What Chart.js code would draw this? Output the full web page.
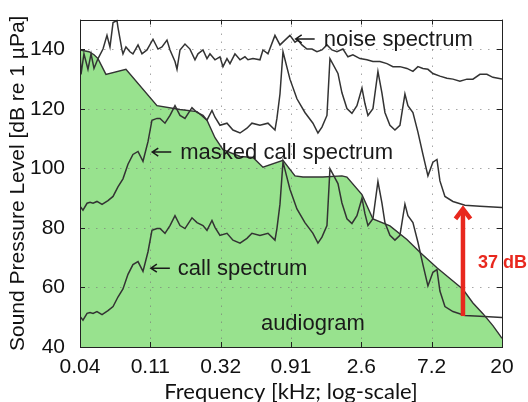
<!DOCTYPE html>
<html>
<head>
<meta charset="utf-8">
<script src="https://cdn.jsdelivr.net/npm/chart.js@4.4.1/dist/chart.umd.min.js"></script>
<style>
  html, body { margin: 0; padding: 0; background: #ffffff; }
  #wrap { width: 528px; height: 402px; }
</style>
</head>
<body>
<div id="wrap"><canvas id="c" width="528" height="402"></canvas></div>
<script>
// Frequency axis (kHz, log scale): ticks every 1.5 octaves
const freqTicks = [0.04, 0.1131, 0.32, 0.905, 2.56, 7.24, 20.48];
const freqTickLabels = ['0.04', '0.11', '0.32', '0.91', '2.6', '7.2', '20'];
const levelTicks = [40, 60, 80, 100, 120, 140];

// Ambient noise spectrum
const noiseFreq = [0.0400, 0.0406, 0.0424, 0.0450, 0.0471, 0.0492, 0.0522, 0.0562, 0.0596, 0.0623, 0.0652, 0.0691, 0.0701,
  0.0744, 0.0755, 0.0789, 0.0837, 0.0875, 0.0943, 0.100, 0.1077, 0.1177, 0.1267, 0.1344, 0.1447, 0.1513, 0.1629, 0.1678,
  0.1754, 0.1888, 0.2032, 0.2189, 0.2288, 0.2464, 0.2614, 0.2732, 0.2942, 0.3167, 0.3311, 0.3513, 0.3672, 0.3953, 0.426,
  0.458, 0.479, 0.516, 0.572, 0.598, 0.644, 0.714, 0.769, 0.828, 0.891, 0.960, 1.003, 1.064, 1.146, 1.234, 1.328, 1.430,
  1.540, 1.658, 1.785, 1.951, 2.100, 2.261, 2.508, 2.781, 3.039, 3.371, 3.738, 4.084, 4.529, 5.023, 5.489, 5.910, 6.363,
  6.852, 7.376, 8.181, 9.073, 9.914, 10.99, 12.20, 13.33, 14.78, 16.38, 17.90, 20.48];
const noiseLevel = [139.8, 131.6, 138.5, 133.3, 138.5, 133.6, 136.9, 140.1, 144.7, 140.8, 149.0, 149.7, 147.4,
  139.8, 138.5, 140.8, 139.2, 138.5, 141.5, 138.5, 139.8, 143.4, 140.1, 140.8, 143.1, 139.8, 135.9, 133.3,
  139.8, 141.8, 140.1, 136.5, 138.5, 139.8, 136.9, 138.5, 136.5, 137.5, 134.2, 136.9, 135.2, 138.5, 136.5,
  137.5, 136.5, 136.9, 136.5, 139.8, 138.5, 144.7, 141.5, 143.1, 144.7, 142.4, 143.1, 141.5, 140.1, 140.1, 139.2, 139.8,
  141.5, 139.8, 139.2, 140.1, 137.5, 138.2, 136.9, 136.5, 135.9, 135.9, 135.2, 134.2, 134.2, 133.6, 132.6, 134.2, 133.6,
  133.3, 131.9, 131.0, 130.3, 130.0, 129.3, 130.0, 130.0, 131.6, 131.6, 130.6, 130.0];

// Call spectrum and the same call masked by noise (shared frequency grid)
const callFreq = [0.0400, 0.0418, 0.0444, 0.0464, 0.0485, 0.0514, 0.0554, 0.0605, 0.0652, 0.0701, 0.0755, 0.0813, 0.0875,
  0.0943, 0.1015, 0.1093, 0.1159, 0.1248, 0.1305, 0.1405, 0.1513, 0.1629, 0.1754, 0.1888, 0.2094, 0.2255, 0.2464, 0.2614,
  0.2814, 0.2942, 0.3167, 0.3513, 0.3838, 0.426, 0.472, 0.508, 0.572, 0.644, 0.714, 0.735, 0.769, 0.804, 0.891, 0.988,
  1.112, 1.252, 1.348, 1.430, 1.540, 1.610, 1.812, 1.922, 2.069, 2.228, 2.399, 2.584, 2.700, 2.823, 3.039, 3.272, 3.470,
  3.628, 3.907, 4.207, 4.529, 4.877, 5.097, 5.489, 5.910, 6.363, 6.852, 7.376, 7.83, 8.181, 8.809, 9.914, 11.84, 14.78, 20.48];
const maskedCallLevel = [87.3, 86.0, 88.3, 88.6, 88.3, 88.9, 87.9, 89.2, 90.6, 93.8, 96.5, 101.4, 104.7,
  105.7, 102.4, 109.0, 116.2, 116.8, 116.8, 115.2, 117.8, 121.1, 117.8, 116.8, 120.4, 118.8, 117.8, 116.2,
  119.5, 117.2, 114.5, 115.2, 112.9, 111.9, 113.5, 115.2, 114.5, 115.2, 112.9, 116.8, 125.0, 139.2, 130.0, 123.4,
  118.8, 115.2, 111.9, 113.9, 117.8, 136.9, 131.9, 125.4, 120.1, 118.5, 121.1, 127.0, 121.8, 117.8, 120.1, 132.6, 125.4,
  118.8, 114.5, 112.9, 114.5, 125.0, 121.1, 118.8, 112.2, 104.7, 97.5, 102.1, 103.0, 95.8, 90.6, 88.9, 87.6, 87.3, 86.9];
const callLevel = [50.3, 49.0, 51.3, 51.6, 51.3, 51.9, 50.9, 52.2, 53.6, 56.8, 59.5, 64.4, 67.7,
  68.7, 65.4, 72.0, 79.2, 79.8, 79.8, 78.2, 80.8, 84.1, 80.8, 79.8, 83.4, 81.8, 80.8, 79.2,
  82.5, 80.2, 77.5, 78.2, 75.9, 74.9, 76.5, 78.2, 77.5, 78.2, 75.9, 79.8, 88.0, 102.2, 93.0, 86.4,
  81.8, 78.2, 74.9, 76.9, 80.8, 99.9, 94.9, 88.4, 83.1, 81.5, 84.1, 90.0, 84.8, 80.8, 83.1, 95.6, 88.4,
  81.8, 77.5, 75.9, 77.5, 88.0, 84.1, 81.8, 75.2, 67.7, 60.5, 65.1, 66.0, 58.8, 53.6, 51.9, 50.6, 50.3, 49.9];

// Hearing threshold (audiogram)
const audiogramFreq = [0.0400, 0.0457, 0.0492, 0.0522, 0.0587, 0.0789, 0.1248, 0.1754, 0.2255, 0.2614, 0.2942, 0.3311,
  0.426, 0.516, 0.598, 0.804, 0.960, 1.080, 1.451, 1.922, 2.069, 2.584, 3.039, 3.907, 5.023, 6.087, 7.83, 9.485,
  11.49, 13.33, 15.45, 17.90, 19.86, 20.48];
const audiogramLevel = [139.8, 139.2, 138.2, 136.9, 131.6, 133.3, 121.1, 119.8, 119.1, 116.2, 110.3, 106.3,
  104.0, 103.7, 100.4, 102.7, 97.5, 97.1, 97.1, 97.5, 97.1, 91.2, 83.0, 80.7, 76.1, 71.8, 66.6, 63.0,
  59.4, 54.8, 51.2, 47.2, 43.9, 42.9];

// Masking gain marker
const gainFreq = 11.5;
const gainFrom = 50.4;
const gainDb = 37;

const toPoints = (xs, ys) => xs.map((f, i) => ({ x: f, y: ys[i] }));

const SANS = '"Liberation Sans", Arial, Helvetica, sans-serif';
const LINE = '#333333';
const GREEN = 'rgb(152,226,142)';

const decor = {
  id: 'decor',
  beforeDatasetsDraw(chart) {
    const { ctx, chartArea: a, scales: { x, y } } = chart;
    ctx.save();
    ctx.strokeStyle = 'rgba(120,120,120,0.65)';
    ctx.lineWidth = 1;
    ctx.setLineDash([1.5, 6.5]);
    freqTicks.slice(1, -1).forEach(v => {
      const px = Math.round(x.getPixelForValue(v)) + 0.5;
      ctx.beginPath(); ctx.moveTo(px, a.bottom); ctx.lineTo(px, a.top); ctx.stroke();
    });
    levelTicks.slice(1).forEach(v => {
      const py = Math.round(y.getPixelForValue(v)) + 0.5;
      ctx.beginPath(); ctx.moveTo(a.left, py); ctx.lineTo(a.right, py); ctx.stroke();
    });
    ctx.restore();
  },
  afterDatasetsDraw(chart) {
    const { ctx, chartArea: a, scales: { x, y } } = chart;
    ctx.save();
    // box and inward ticks
    ctx.strokeStyle = '#222';
    ctx.lineWidth = 1;
    ctx.strokeRect(Math.round(a.left) + 0.5, Math.round(a.top) + 0.5,
      Math.round(a.right - a.left), Math.round(a.bottom - a.top));
    const tl = 5;
    freqTicks.forEach(v => {
      const px = Math.round(x.getPixelForValue(v)) + 0.5;
      ctx.beginPath();
      ctx.moveTo(px, a.bottom); ctx.lineTo(px, a.bottom - tl);
      ctx.moveTo(px, a.top); ctx.lineTo(px, a.top + tl);
      ctx.stroke();
    });
    levelTicks.forEach(v => {
      const py = Math.round(y.getPixelForValue(v)) + 0.5;
      ctx.beginPath();
      ctx.moveTo(a.left, py); ctx.lineTo(a.left + tl, py);
      ctx.moveTo(a.right, py); ctx.lineTo(a.right - tl, py);
      ctx.stroke();
    });

    // curve labels with pointer arrows
    const label = (text, f, db, dx) => {
      const tipX = x.getPixelForValue(f), tipY = y.getPixelForValue(db);
      ctx.strokeStyle = '#1a1a1a';
      ctx.lineWidth = 1.5;
      ctx.beginPath();
      ctx.moveTo(tipX, tipY); ctx.lineTo(tipX + 19, tipY);
      ctx.moveTo(tipX + 6, tipY - 4); ctx.lineTo(tipX, tipY); ctx.lineTo(tipX + 6, tipY + 4);
      ctx.stroke();
      ctx.fillStyle = '#1a1a1a';
      ctx.font = '22px ' + SANS;
      ctx.textAlign = 'left';
      ctx.textBaseline = 'alphabetic';
      ctx.fillText(text, tipX + dx, tipY + 7);
    };
    label('noise spectrum', 0.97, 143.5, 28);
    label('masked call spectrum', 0.1164, 105.5, 28);
    label('call spectrum', 0.1140, 66.5, 27);

    ctx.fillStyle = '#1a1a1a';
    ctx.font = '22px ' + SANS;
    ctx.fillText('audiogram', x.getPixelForValue(0.58), y.getPixelForValue(45.8));

    // masking gain arrow
    const gx = x.getPixelForValue(gainFreq);
    const y0 = y.getPixelForValue(gainFrom);
    const y1 = y.getPixelForValue(gainFrom + gainDb);
    ctx.strokeStyle = '#e8281e';
    ctx.lineWidth = 4.5;
    ctx.lineCap = 'butt';
    ctx.lineJoin = 'miter';
    ctx.beginPath(); ctx.moveTo(gx, y0); ctx.lineTo(gx, y1 + 3); ctx.stroke();
    ctx.beginPath(); ctx.moveTo(gx - 7.5, y1 + 13); ctx.lineTo(gx, y1 + 3); ctx.lineTo(gx + 7.5, y1 + 13); ctx.stroke();
    ctx.fillStyle = '#e8281e';
    ctx.font = 'bold 18px ' + SANS;
    ctx.textBaseline = 'middle';
    ctx.fillText(gainDb + ' dB', gx + 15, (y0 + y1) / 2 + 2);
    ctx.restore();
  }
};

new Chart(document.getElementById('c'), {
  type: 'line',
  data: {
    datasets: [
      { label: 'noise spectrum', data: toPoints(noiseFreq, noiseLevel), borderColor: LINE, borderWidth: 1.5, pointRadius: 0, fill: false },
      { label: 'masked call spectrum', data: toPoints(callFreq, maskedCallLevel), borderColor: LINE, borderWidth: 1.5, pointRadius: 0, fill: false },
      { label: 'call spectrum', data: toPoints(callFreq, callLevel), borderColor: LINE, borderWidth: 1.5, pointRadius: 0, fill: false },
      { label: 'audiogram', data: toPoints(audiogramFreq, audiogramLevel), borderColor: LINE, borderWidth: 1.4, pointRadius: 0,
        backgroundColor: GREEN, fill: 'start' }
    ]
  },
  options: {
    responsive: false,
    animation: false,
    devicePixelRatio: 1,
    layout: { padding: { top: 12, right: 26, bottom: 0, left: 0 } },
    elements: { line: { tension: 0 } },
    plugins: {
      legend: { display: false },
      tooltip: { enabled: false },
      filler: { drawTime: 'beforeDatasetsDraw' }
    },
    scales: {
      x: {
        type: 'logarithmic',
        min: 0.04,
        max: 20.48,
        afterBuildTicks: s => { s.ticks = freqTicks.map(v => ({ value: v })); },
        afterFit: s => { s.height = 55; },
        ticks: {
          callback: (v, i) => freqTickLabels[i],
          autoSkip: false, maxRotation: 0, padding: 0,
          color: '#111', font: { family: SANS, size: 21 }
        },
        grid: { display: false },
        border: { display: false },
        title: {
          display: true, text: 'Frequency [kHz; log-scale]', color: '#111',
          font: { family: 'Lato, ' + SANS, size: 22, lineHeight: 1.0 },
          padding: { top: 0, bottom: -1 }
        }
      },
      y: {
        type: 'linear',
        min: 40,
        max: 150,
        afterBuildTicks: s => { s.ticks = levelTicks.map(v => ({ value: v })); },
        afterFit: s => { s.width = 80; },
        ticks: { padding: 7, color: '#111', font: { family: SANS, size: 21 } },
        grid: { display: false },
        border: { display: false },
        title: {
          display: true, text: 'Sound Pressure Level [dB re 1 µPa]', color: '#111',
          font: { family: SANS, size: 21, lineHeight: 1.0 },
          padding: { top: 8, bottom: 0 }
        }
      }
    }
  },
  plugins: [decor]
});
</script>
</body>
</html>
